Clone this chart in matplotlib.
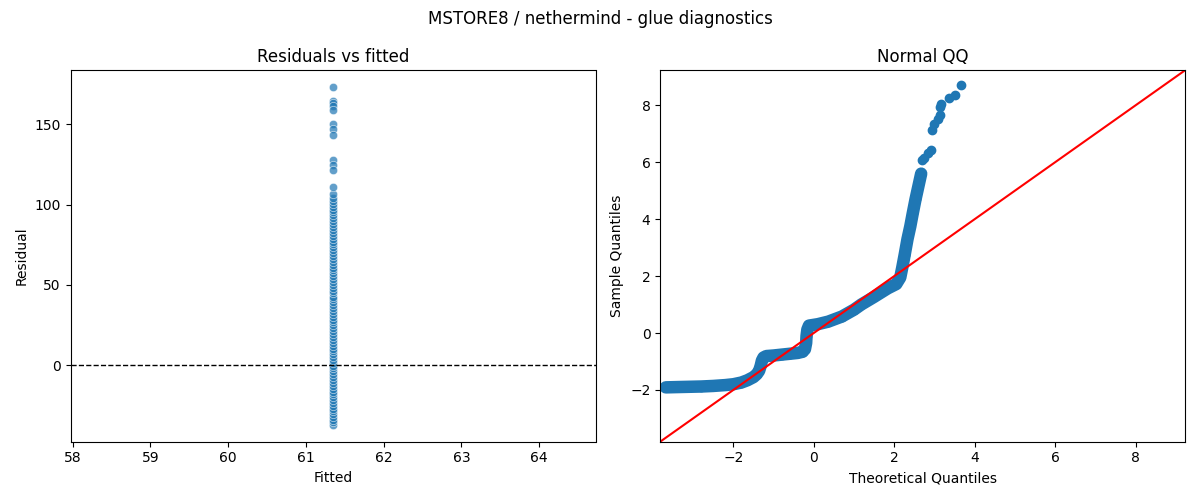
import matplotlib
matplotlib.use("Agg")
import matplotlib.pyplot as plt
import seaborn as sns

# --- data ------------------------------------------------------------------
fitted_value = 61.35

# residuals (y - fitted), sparse upper tail + dense column
resid_tail = [173.0, 164.6, 163.0, 161.3, 158.7, 150.0, 146.7, 143.0,
              128.0, 124.8, 121.7, 111.0]
resid_dense = [-37.0, -35.5, -33.8, -32.0, -30.2, -28.6, -26.9, -25.0, -23.4,
               -21.5, -19.8, -18.1, -16.3, -14.4, -12.7, -10.9, -9.0, -7.4,
               -5.5, -3.8, -1.9, -0.3, 1.5, 3.4, 5.0, 6.9, 8.7, 10.4, 12.3,
               14.1, 15.8, 17.6, 19.5, 21.2, 23.0, 24.9, 26.7, 28.4, 30.2,
               32.1, 33.9, 35.6, 37.5, 39.3, 41.0, 42.8, 44.7, 46.5, 48.2,
               50.0, 51.9, 53.6, 55.4, 57.3, 59.1, 60.8, 62.6, 64.5, 66.3,
               68.0, 69.8, 71.7, 73.5, 75.2, 77.0, 78.9, 80.7, 82.4, 84.2,
               86.1, 87.9, 89.6, 91.4, 93.3, 95.1, 96.8, 98.6, 100.5, 102.3,
               104.0, 106.5]

# normal QQ: dense body of the curve (theoretical, sample)
qq_body_x = [-3.68, -3.4, -3.1, -2.8, -2.5, -2.2, -2.0, -1.8, -1.65, -1.5,
             -1.42, -1.36, -1.32, -1.29, -1.25, -1.18, -1.0, -0.8, -0.6,
             -0.4, -0.28, -0.22, -0.19, -0.18, -0.16, -0.12, 0.1, 0.36, 0.7,
             1.0, 1.18, 1.5, 1.84, 2.05, 2.15, 2.2, 2.26, 2.33, 2.4, 2.46,
             2.53, 2.6, 2.67]
qq_body_y = [-1.91, -1.90, -1.89, -1.88, -1.86, -1.83, -1.80, -1.74, -1.66,
             -1.55, -1.45, -1.33, -1.15, -0.97, -0.86, -0.81, -0.79, -0.76,
             -0.73, -0.70, -0.66, -0.57, -0.35, -0.1, 0.12, 0.26, 0.31, 0.40,
             0.58, 0.82, 1.0, 1.27, 1.57, 1.72, 1.95, 2.3, 2.75, 3.3, 3.75,
             4.2, 4.7, 5.15, 5.6]
# normal QQ: separated upper-tail points
qq_tail_x = [2.69, 2.75, 2.84, 2.92, 2.95, 3.0, 3.09, 3.13, 3.13, 3.17,
             3.37, 3.5, 3.67]
qq_tail_y = [6.07, 6.16, 6.31, 6.42, 7.15, 7.36, 7.53, 7.65, 7.94, 8.06,
             8.27, 8.35, 8.70]

qq_lims = [-3.82, 9.23]

# --- figure ----------------------------------------------------------------
fig, (ax1, ax2) = plt.subplots(1, 2, figsize=(12, 5), dpi=100)
fig.suptitle("MSTORE8 / nethermind - glue diagnostics")

residuals = resid_dense + resid_tail
fitted = [fitted_value] * len(residuals)
sns.scatterplot(x=fitted, y=residuals, alpha=0.7, ax=ax1)
ax1.axhline(0, color="black", linestyle="--", linewidth=1)
ax1.set_title("Residuals vs fitted")
ax1.set_xlabel("Fitted")
ax1.set_ylabel("Residual")

# dense body: markers joined by a line of marker width (thousands of points overlap)
ax2.plot(qq_body_x, qq_body_y, color="C0", linewidth=9, marker="o",
         markersize=6, solid_capstyle="round", solid_joinstyle="round")
ax2.plot(qq_tail_x, qq_tail_y, "o", color="C0", markersize=6)
ax2.plot(qq_lims, qq_lims, "r-")
ax2.set_xlim(qq_lims)
ax2.set_ylim(qq_lims)
ax2.set_title("Normal QQ")
ax2.set_xlabel("Theoretical Quantiles")
ax2.set_ylabel("Sample Quantiles")

plt.tight_layout()
plt.savefig("out.png")
